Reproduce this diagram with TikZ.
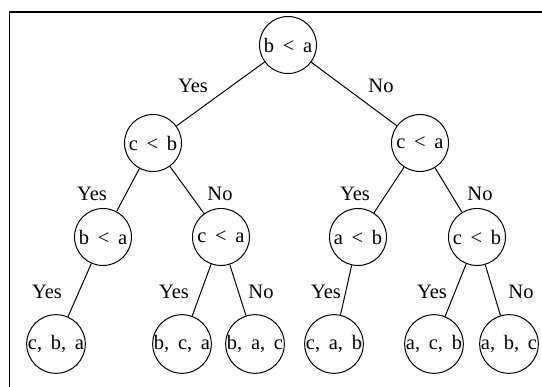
\documentclass[tikz,border=0pt]{standalone}
\usepackage{fontspec}
\setmainfont{Liberation Serif}[WordSpace=1.7]
\tikzset{test/.style = {circle, draw, minimum size=57pt, inner sep=0pt}}
\tikzset{leaf/.style = {circle, draw, minimum size=58pt, inner sep=0pt}}
\tikzset{ans/.style = {inner sep=0pt}}

\begin{document}
\begin{tikzpicture}[x=1pt, y=-1pt, line width=1pt, font=\fontsize{20.5}{24}\selectfont]
        \useasboundingbox (0,0) rectangle (542,387);
        \draw [line width=1.4pt] (9.5,387) -- (9.5,12) -- (542,12);
        \node [test] (r) at (288,45) {b < a};
        \node [test] (cb) at (153,143) {c < b};
        \node [test] (ca) at (420,143) {c < a};
        \node [test] (cbba) at (103,237) {b < a};
        \node [test] (cbca) at (221,237) {c < a};
        \node [test] (caab) at (358,237) {a < b};
        \node [test] (cacb) at (477,237) {c < b};
        \node [leaf] (cba) at (56,344) {c, b, a};
        \node [leaf] (bca) at (182,344) {b, c, a};
        \node [leaf] (bac) at (255,344) {b, a, c};
        \node [leaf] (cab) at (334,344) {c, a, b};
        \node [leaf] (acb) at (434,344) {a, c, b};
        \node [leaf] (abc) at (509,344) {a, b, c};
        \draw (r) -- (cb) (r) -- (ca)
          (cb) -- (cbba) (cb) -- (cbca)
          (ca) -- (caab) (ca) -- (cacb)
          (cbba) -- (cba)
          (cbca) -- (bca) (cbca) -- (bac)
          (caab) -- (cab)
          (cacb) -- (acb) (cacb) -- (abc);
        \node [ans] (y1) at (193,86) {Yes};
        \node [ans] (n1) at (381,86) {No};
        \node [ans] (y2) at (92,194) {Yes};
        \node [ans] (n2) at (220,194) {No};
        \node [ans] (y3) at (355,194) {Yes};
        \node [ans] (n3) at (480,194) {No};
        \node [ans] (y4) at (47,292) {Yes};
        \node [ans] (y5) at (174,292) {Yes};
        \node [ans] (n5) at (261,292) {No};
        \node [ans] (y6) at (326,292) {Yes};
        \node [ans] (y7) at (432,292) {Yes};
        \node [ans] (n7) at (521,292) {No};
      \end{tikzpicture}
\end{document}
